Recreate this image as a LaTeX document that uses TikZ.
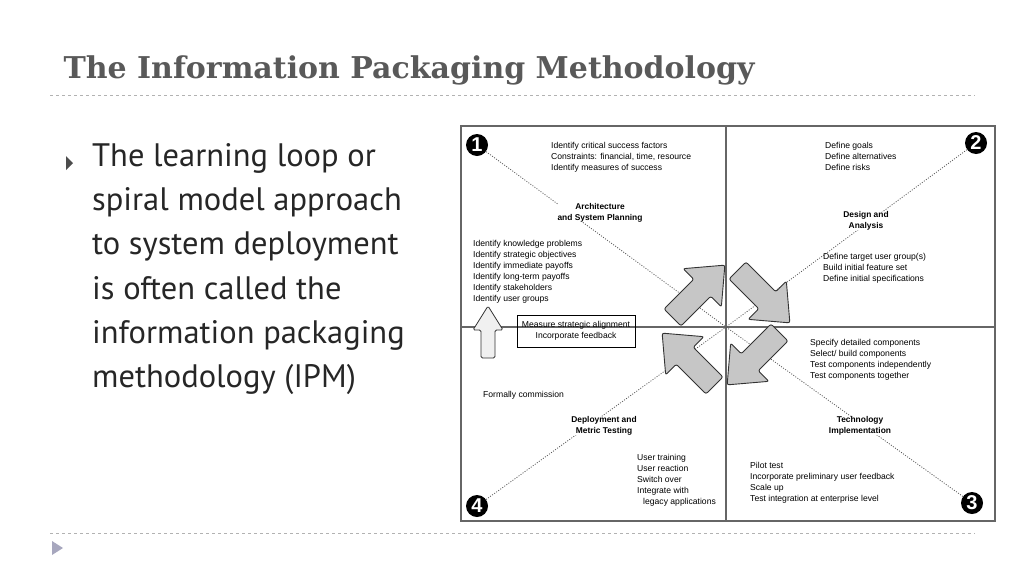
\documentclass[tikz,border=0pt]{standalone}
\usepackage{fontspec}
\setmainfont{DejaVu Serif}
\newfontfamily\bodyf{PT Sans}
\newfontfamily\diagf{Liberation Sans}
\begin{document}
\begin{tikzpicture}[x=1pt,y=-1pt,
  dtext/.style={font=\diagf\fontsize{8.6}{11}\selectfont,align=left,inner sep=0pt,anchor=north west},
  dhead/.style={font=\diagf\bfseries\fontsize{8.4}{11}\selectfont,align=center,inner sep=0pt},
  dotl/.style={dash pattern=on 1pt off 1.5pt,line width=0.8pt,gray!70!black},
  num/.style={circle,fill=black,text=white,inner sep=0pt,minimum size=22pt,font=\diagf\bfseries\fontsize{20}{20}\selectfont},
  fat/.style={fill=gray!45,draw=black!80,line width=0.9pt,rounded corners=2pt}]
\useasboundingbox (0,0) rectangle (1024,576);
\node[anchor=west,font=\bfseries\fontsize{30}{30}\selectfont,text=black!65] (title) at (60,70) {The Information Packaging Methodology};
\draw[gray!60,dashed] (50,95) -- (975,95);
\draw[gray!60,dashed] (50,533) -- (975,533);
\fill[blue!15!gray!60] (52,541) -- (63,548) -- (52,555) -- cycle;
\fill[black!70] (66,156) -- (73,163) -- (66,170) -- cycle;
\node[anchor=north west,align=left,font=\bodyf\fontsize{32.5}{44.3}\selectfont,text=black!85,inner sep=0pt] (body) at (92,143)
 {The learning loop or\\spiral model approach\\to system deployment\\is often called the\\information packaging\\methodology (IPM)};
% diagram frame
\draw[gray!80!black,line width=1.2pt] (461,126) rectangle (995,521);
\draw[gray!80!black,line width=1.2pt] (726,126) -- (726,521);
\draw[gray!80!black,line width=1.2pt] (461,327) -- (995,327);
\coordinate (c) at (726,327);
\node[num] (n1) at (477,145) {1};
\node[num] (n2) at (976,143) {2};
\node[num] (n3) at (972,503) {3};
\node[num] (n4) at (477,506) {4};
\draw[dotl] (n1) -- (c); \draw[dotl] (n2) -- (c);
\draw[dotl] (n3) -- (c); \draw[dotl] (n4) -- (c);
% labels
\node[dhead,fill=white] (h1) at (600,213) {Architecture\\and System Planning};
\node[dhead,fill=white] (h2) at (866,221) {Design and\\Analysis};
\node[dhead,fill=white] (h3) at (860,426) {Technology\\Implementation};
\node[dhead,fill=white] (h4) at (604,426) {Deployment and\\Metric Testing};
\node[dtext] (t1) at (551,142) {Identify critical success factors\\Constraints: financial, time, resource\\Identify measures of success};
\node[dtext] (t2) at (473,240) {Identify knowledge problems\\Identify strategic objectives\\Identify immediate payoffs\\Identify long-term payoffs\\Identify stakeholders\\Identify user groups};
\node[dtext] (t3) at (825,142) {Define goals\\Define alternatives\\Define risks};
\node[dtext] (t4) at (823,253) {Define target user group(s)\\Build initial feature set\\Define initial specifications};
\node[dtext] (t5) at (810,339) {Specify detailed components\\Select/ build components\\Test components independently\\Test components together};
\node[dtext] (t6) at (750,462) {Pilot test\\Incorporate preliminary user feedback\\Scale up\\Test integration at enterprise level};
\node[dtext] (t7) at (637,454) {User training\\User reaction\\Switch over\\Integrate with\\\hspace{6pt}legacy applications};
\node[dtext] (t8) at (483,391) {Formally commission};
\node[draw=black,line width=0.8pt,align=center,font=\diagf\fontsize{8.6}{11}\selectfont,minimum width=118pt,minimum height=32pt] (m) at (576,331) {Measure strategic alignment\\Incorporate feedback};
% small up arrow
\draw[fill=gray!12,draw=black!80,line width=0.8pt,rounded corners=1.5pt] (481,358) -- (481,330) -- (473,330) -- (488,306) -- (503,330) -- (495,330) -- (495,358) -- cycle;
% fat arrows
\foreach \px/\py/\a in {698/292/45,763/296/-45,754/358/-135,689/360/135}{
  \begin{scope}[shift={(\px,\py)},rotate=\a]
  \draw[fat] (-36,-12) -- (6,-12) -- (6,-27) -- (38,0) -- (6,27) -- (6,12) -- (-36,12) -- cycle;
  \end{scope}}
\end{tikzpicture}
\end{document}
